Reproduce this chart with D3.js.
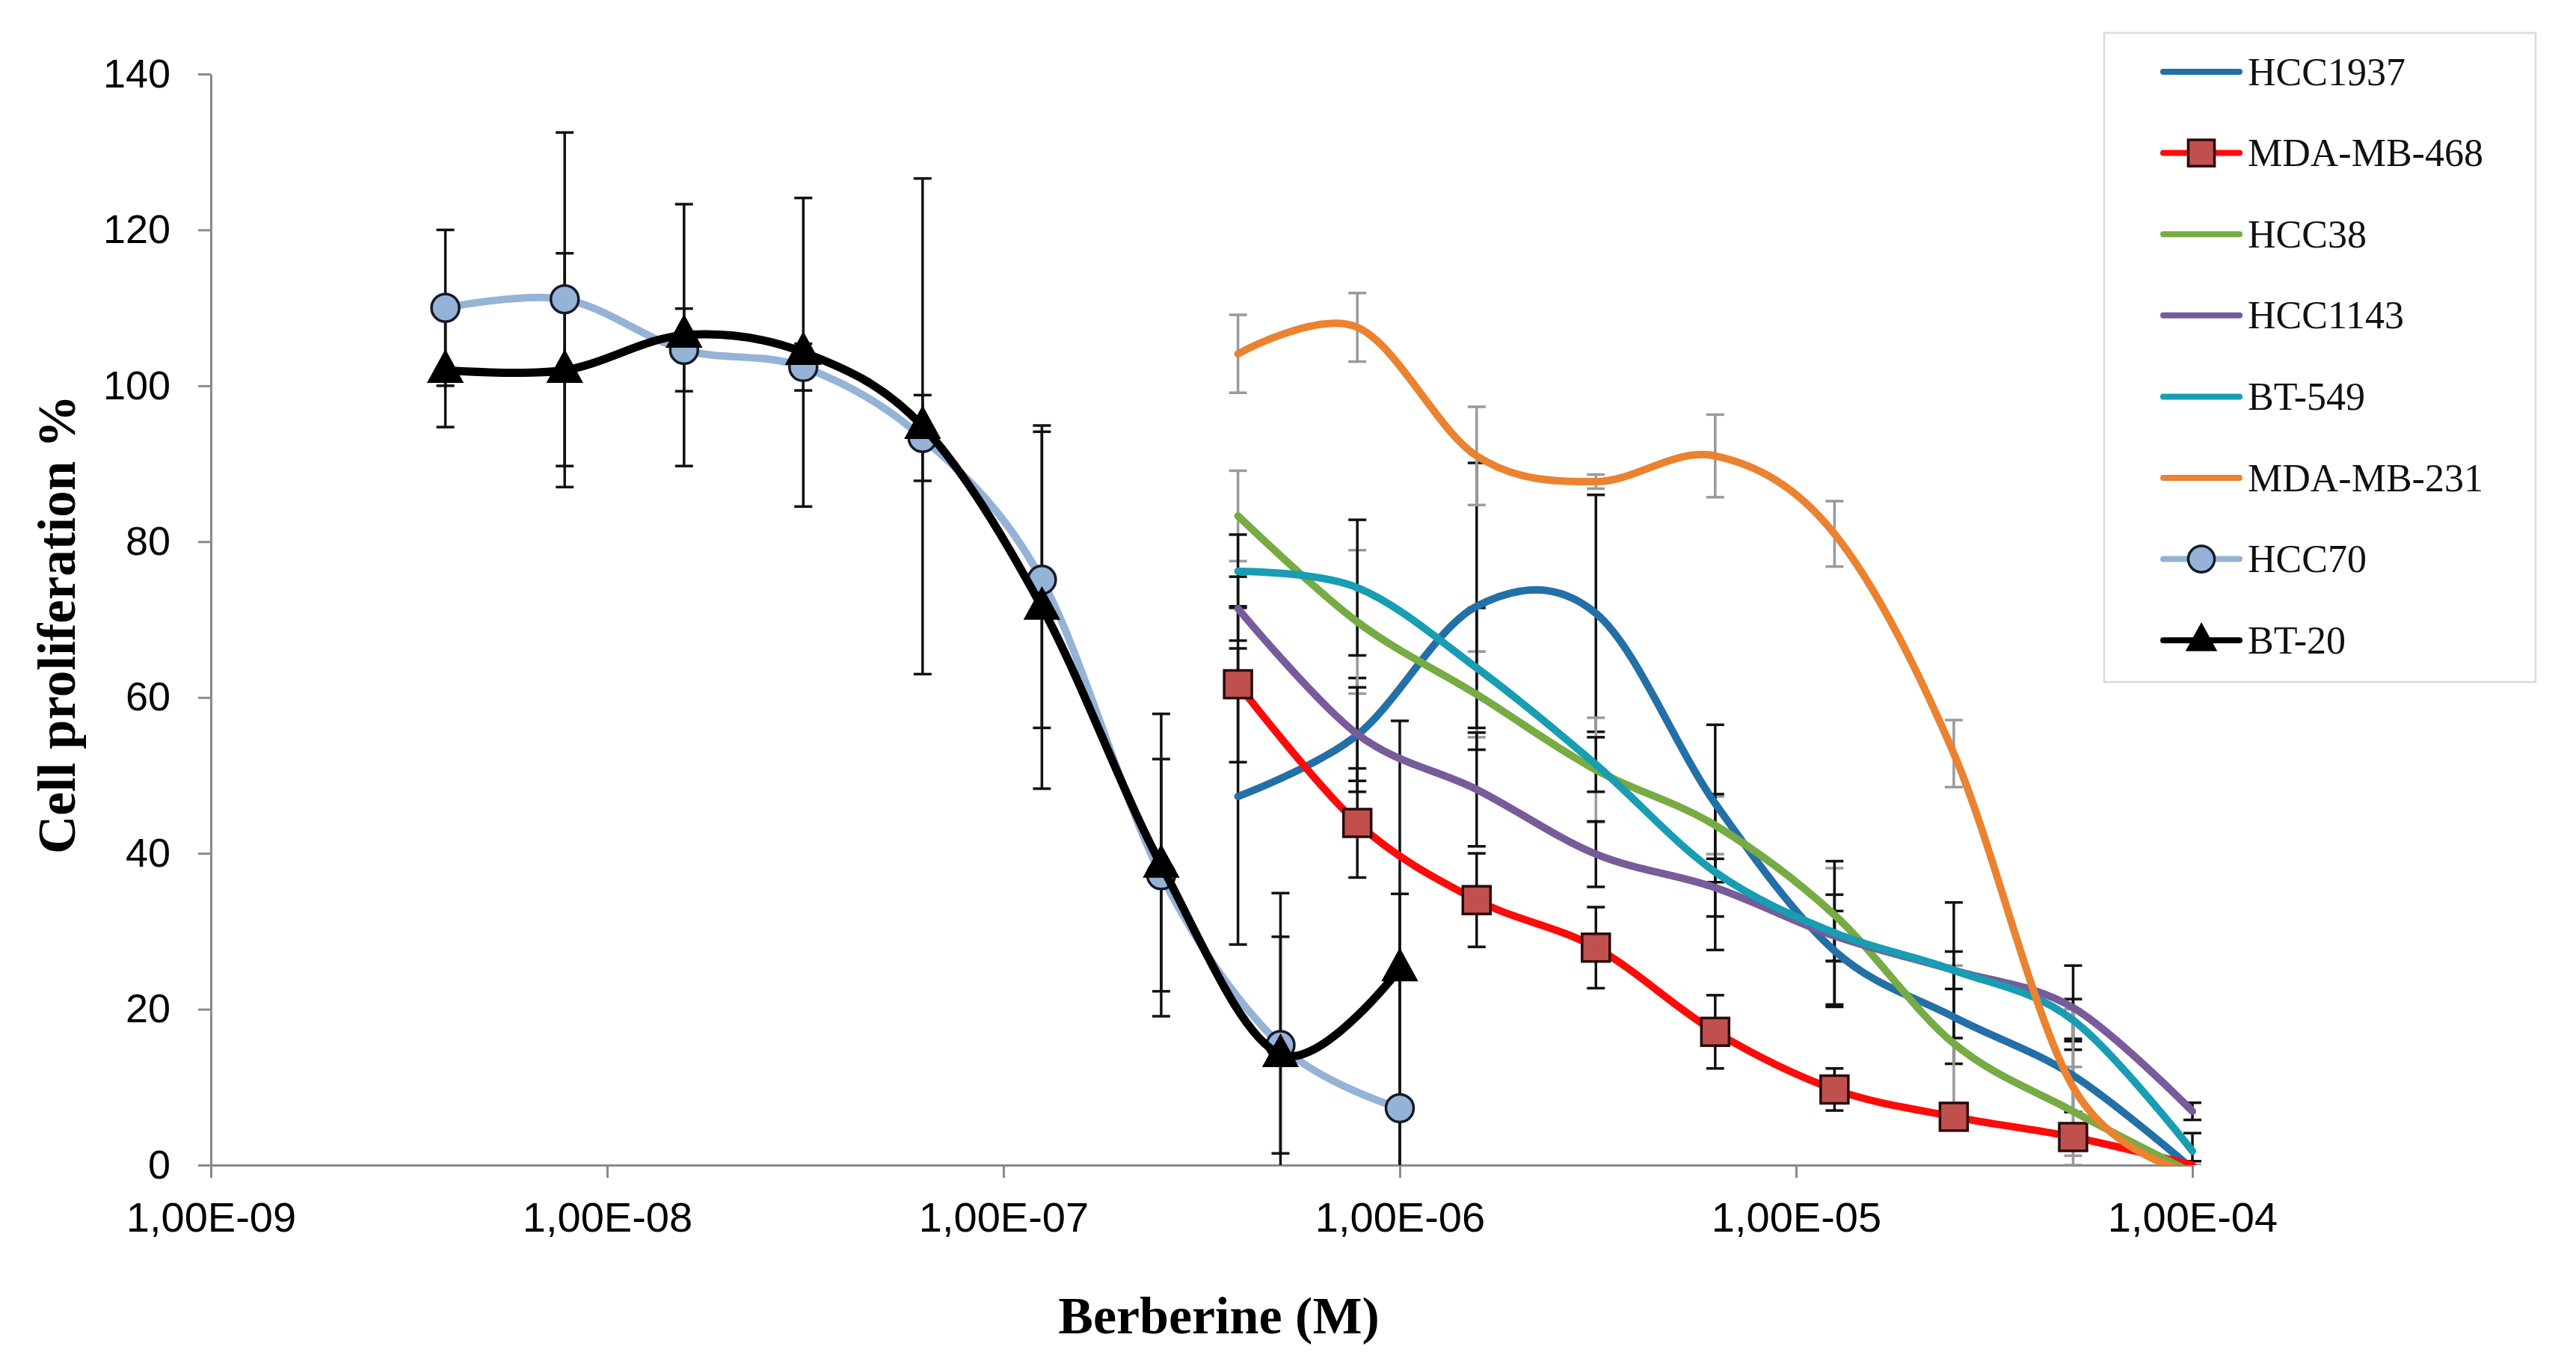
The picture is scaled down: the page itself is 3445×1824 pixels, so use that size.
<!DOCTYPE html>
<html>
<head>
<meta charset="utf-8">
<script src="https://cdn.jsdelivr.net/npm/d3@7/dist/d3.min.js"></script>
<style>
  html, body { margin: 0; padding: 0; background: #ffffff; }
  svg { display: block; }
</style>
</head>
<body>
<script>
// ---------------- DATA ----------------
const concLow  = [3.906e-9, 7.813e-9, 1.563e-8, 3.125e-8, 6.25e-8, 1.25e-7, 2.5e-7, 5e-7, 1e-6];
const concHigh = [3.906e-7, 7.813e-7, 1.563e-6, 3.125e-6, 6.25e-6, 1.25e-5, 2.5e-5, 5e-5, 1e-4];

const seriesNames = ["HCC1937", "MDA-MB-468", "HCC38", "HCC1143", "BT-549", "MDA-MB-231", "HCC70", "BT-20"];

const hcc1937   = [47.3, 55.2, 71.7, 70.8, 46.4, 27.5, 19.0, 11.5, -0.5];
const hcc1937E  = [19.0, 7.3, 18.4, 15.2, 10.1, 7.2, 6.0, 4.7, 0.5];
const mdamb468  = [61.7, 43.9, 34.0, 27.9, 17.1, 9.7, 6.2, 3.6, 0];
const mdamb468E = [10.0, 7.0, 6.0, 5.2, 4.7, 2.7, 1.0, 1.0, 0.5];
const hcc38     = [83.3, 69.7, 60.4, 50.7, 43.6, 32.1, 15.6, 6.9, -1];
const hcc38E    = [5.8, 9.2, 5.5, 6.7, 3.7, 6.0, 10.0, 5.7, 1.0];
const hcc1143   = [71.4, 55.3, 48.2, 39.9, 35.6, 29.4, 25.0, 20.2, 6.9];
const hcc1143E  = [4.1, 6.0, 7.3, 4.2, 3.7, 3.2, 8.7, 5.4, 1.1];
const bt549     = [76.2, 74.1, 63.8, 51.4, 37.6, 29.8, 25.0, 18.6, 1.8];
const bt549E    = [4.7, 8.7, 7.7, 3.5, 10.0, 9.2, 2.4, 2.7, 2.3];
const mdamb231  = [104.1, 107.5, 91.0, 87.7, 91.0, 81.0, 52.8, 10.0, -1];
const mdamb231E = [5.0, 4.4, 6.3, 0.9, 5.3, 4.2, 4.3, 10.0, 1.0];
const hcc70     = [110.0, 111.1, 104.6, 102.4, 93.3, 75.1, 37.2, 15.4, 7.3];
const hcc70E    = [10.0, 21.4, 5.3, 3.0, 5.5, 19.0, 14.9, 13.9, 27.5];
const bt20      = [102.0, 102.0, 106.5, 104.3, 94.8, 71.6, 38.5, 14.2, 25.2];
const bt20E     = [7.3, 15.0, 16.8, 19.8, 31.8, 23.3, 19.4, 20.7, 31.8];

const xTicks = [1e-9, 1e-8, 1e-7, 1e-6, 1e-5, 1e-4];
const xTickLabels = ["1,00E-09", "1,00E-08", "1,00E-07", "1,00E-06", "1,00E-05", "1,00E-04"];
const yTicks = [0, 20, 40, 60, 80, 100, 120, 140];

const xTitle = "Berberine (M)";
const yTitle = "Cell proliferation %";

// ---------------- SERIES TABLE ----------------
const series = [
  { name: seriesNames[0], x: concHigh, y: hcc1937,  e: hcc1937E,  color: "#236FA8", err: "#111", marker: null },
  { name: seriesNames[1], x: concHigh, y: mdamb468, e: mdamb468E, color: "#FF0A0A", err: "#111", marker: "square", fill: "#C0504D" },
  { name: seriesNames[2], x: concHigh, y: hcc38,    e: hcc38E,    color: "#77AB43", err: "#9a9a9a", marker: null },
  { name: seriesNames[3], x: concHigh, y: hcc1143,  e: hcc1143E,  color: "#775B9B", err: "#111", marker: null },
  { name: seriesNames[4], x: concHigh, y: bt549,    e: bt549E,    color: "#189DB3", err: "#111", marker: null },
  { name: seriesNames[5], x: concHigh, y: mdamb231, e: mdamb231E, color: "#EA8230", err: "#9a9a9a", marker: null },
  { name: seriesNames[6], x: concLow,  y: hcc70,    e: hcc70E,    color: "#95B3D7", err: "#111", marker: "circle", fill: "#95B3D7" },
  { name: seriesNames[7], x: concLow,  y: bt20,     e: bt20E,     color: "#000000", err: "#111", marker: "triangle", fill: "#000000" }
];

// ---------------- LAYOUT ----------------
const W = 3445, H = 1824;
const svg = d3.select("body").append("svg").attr("width", W).attr("height", H)
  .style("background", "#ffffff");

const x = d3.scaleLog().domain([1e-9, 1e-4]).range([282, 2932]);
const y = d3.scaleLinear().domain([0, 140]).range([1558, 99]);

svg.append("defs").append("clipPath").attr("id", "plotclip")
  .append("rect").attr("x", 0).attr("y", 0).attr("width", W).attr("height", y(0));

// ---------------- AXES ----------------
const axisColor = "#8a8a8a";
const yAxis = svg.append("g").attr("transform", `translate(${x(1e-9)},0)`)
  .call(d3.axisLeft(y).tickValues(yTicks).tickSize(17).tickSizeOuter(0).tickPadding(37).tickFormat(d3.format("d")));
const xAxis = svg.append("g").attr("transform", `translate(0,${y(0)})`)
  .call(d3.axisBottom(x).tickValues(xTicks).tickSize(17).tickSizeOuter(0).tickPadding(32)
    .tickFormat((d, i) => xTickLabels[i]));
[yAxis, xAxis].forEach(g => {
  g.select(".domain").attr("stroke", axisColor).attr("stroke-width", 3);
  g.selectAll(".tick line").attr("stroke", axisColor).attr("stroke-width", 3);
  g.selectAll(".tick text").attr("fill", "#000").style("font-family", "'Liberation Sans', Arial, sans-serif")
    .style("font-size", "54px");
});
xAxis.selectAll(".tick text").style("font-size", "56px");

// axis titles
svg.append("text").attr("x", 1630).attr("y", 1783).attr("text-anchor", "middle")
  .style("font-family", "'Liberation Serif', 'Times New Roman', serif").style("font-weight", "bold")
  .style("font-size", "70px").attr("fill", "#000").text(xTitle);
svg.append("text").attr("transform", "translate(100,835) rotate(-90)").attr("text-anchor", "middle")
  .style("font-family", "'Liberation Serif', 'Times New Roman', serif").style("font-weight", "bold")
  .style("font-size", "71px").attr("fill", "#000").text(yTitle);

// ---------------- ERROR BARS ----------------
const capW = 24;
const errG = svg.append("g").attr("clip-path", "url(#plotclip)");
series.forEach(s => {
  const g = errG.append("g").attr("stroke", s.err).attr("stroke-width", 3.5).attr("fill", "none");
  s.x.forEach((c, i) => {
    const cx = x(c), y1 = y(s.y[i] + s.e[i]), y0 = y(s.y[i] - s.e[i]);
    g.append("line").attr("x1", cx).attr("x2", cx).attr("y1", y1).attr("y2", y0);
    g.append("line").attr("x1", cx - capW / 2).attr("x2", cx + capW / 2).attr("y1", y1).attr("y2", y1);
    g.append("line").attr("x1", cx - capW / 2).attr("x2", cx + capW / 2).attr("y1", y0).attr("y2", y0);
  });
});

// ---------------- LINES + MARKERS ----------------
const line = d3.line().curve(d3.curveCatmullRom.alpha(0));
const markSize = 37;
function drawMarker(g, type, cx, cy, fill, scale = 1) {
  const s = markSize * scale;
  if (type === "square") {
    g.append("rect").attr("x", cx - s / 2).attr("y", cy - s / 2).attr("width", s).attr("height", s)
      .attr("fill", fill).attr("stroke", "#2a0a0a").attr("stroke-width", 3.5);
  } else if (type === "circle") {
    g.append("ellipse").attr("cx", cx).attr("cy", cy).attr("rx", s / 2).attr("ry", s / 2)
      .attr("fill", fill).attr("stroke", "#141a2a").attr("stroke-width", 3.5);
  } else if (type === "triangle") {
    const w = 46 * scale, h = 42 * scale;
    g.append("path").attr("d", `M${cx},${cy - h * 0.62} L${cx + w / 2},${cy + h * 0.38} L${cx - w / 2},${cy + h * 0.38} Z`)
      .attr("fill", fill).attr("stroke", "#000").attr("stroke-width", 2);
  }
}

const plotG = svg.append("g").attr("clip-path", "url(#plotclip)");
series.forEach(s => {
  const pts = s.x.map((c, i) => [x(c), y(s.y[i])]);
  plotG.append("path").attr("d", line(pts)).attr("fill", "none").attr("stroke", s.color)
    .attr("stroke-width", s.name === "BT-20" ? 11 : 10).attr("stroke-linejoin", "round").attr("stroke-linecap", "round");
  if (s.marker) {
    const mg = plotG.append("g");
    s.x.forEach((c, i) => {
      if (s.y[i] > 0) drawMarker(mg, s.marker, x(c), y(s.y[i]), s.fill);
    });
  }
});

// ---------------- LEGEND ----------------
const lg = svg.append("g");
lg.append("rect").attr("x", 2814).attr("y", 44).attr("width", 577).attr("height", 868)
  .attr("fill", "#fff").attr("stroke", "#d9d9d9").attr("stroke-width", 2.5);
series.forEach((s, i) => {
  const cy = 96 + i * 108.6;
  lg.append("line").attr("x1", 2893).attr("x2", 2995).attr("y1", cy).attr("y2", cy)
    .attr("stroke", s.color).attr("stroke-width", 8).attr("stroke-linecap", "round");
  if (s.marker) drawMarker(lg, s.marker, 2944, cy, s.fill, s.marker === "triangle" ? 0.85 : 0.95);
  lg.append("text").attr("x", 3006).attr("y", cy).attr("dy", "0.34em")
    .style("font-family", "'Liberation Serif', 'Times New Roman', serif").style("font-size", "52px")
    .attr("fill", "#111").text(s.name);
});
</script>
</body>
</html>
